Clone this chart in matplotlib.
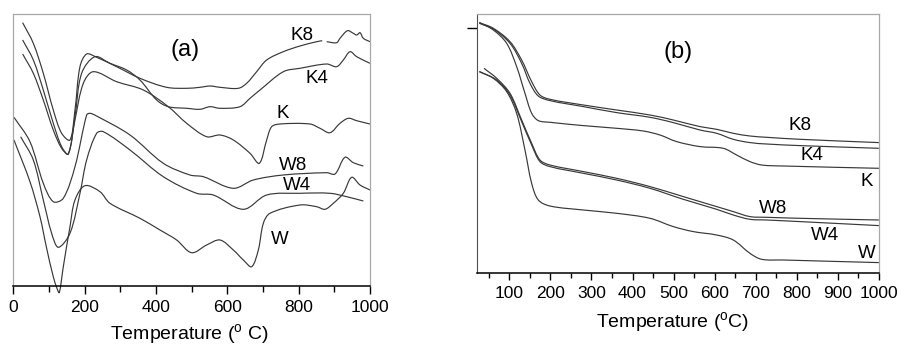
import numpy as np
import matplotlib
matplotlib.use("Agg")
import matplotlib.pyplot as plt
from matplotlib.ticker import MultipleLocator
from matplotlib.path import Path
from matplotlib.patches import PathPatch

plt.rcParams['font.family'] = ['Liberation Sans', 'DejaVu Sans']
plt.rcParams['mathtext.fontset'] = 'custom'
plt.rcParams['mathtext.rm'] = 'Liberation Sans'

# ---------------- Panel (a): DTA curves (temperature, signal in arbitrary units)
a_K8_T = [26.2, 56.1, 84.1, 112.1, 135.5, 158.9, 172.9, 186.9, 205.6, 233.6, 289.7, 355.1, 429.9, 486,
          523.4, 551.4, 579.4, 630.8, 654.2, 682.2, 710.3, 757, 803.7, 850.5, 866.0, np.nan,
          878.5, 906.5, 915.9, 937.0, 953.3, 962.6, 972, 981.3, 1000]
a_K8_y = [263.3, 242.7, 212.7, 176, 152.7, 146, 176, 219.3, 232, 228.7, 219.3, 207.7, 198.7, 197.7,
          198.7, 200, 198.7, 197.7, 202.7, 214.3, 226, 234.3, 240, 244.3, 245.3, np.nan,
          244.3, 243.3, 247.7, 255.3, 252.7, 251.0, 253.3, 247.7, 244.3]

a_K4_T = [26.2, 56.1, 84.1, 112.1, 135.5, 154.2, 172.9, 191.6, 229, 271, 317.8, 355.1, 401.9, 434.6, 486,
          523.4, 551.4, 579.4, 635.5, 663.6, 691.6, 757, 803.7, 878.5, 906.5, 925.2, 944, 962.6, 1000]
a_K4_y = [246, 226, 196, 162.7, 139.3, 132, 169.3, 212.7, 229.3, 222.7, 216, 206, 186, 179.3, 177.7,
          176.7, 179.3, 177.7, 179.3, 187.7, 196, 214.3, 217.7, 222, 219.3, 226, 234.3, 229.3, 222.7]

a_K_T = [26.2, 56.1, 84.1, 112.1, 135.5, 154.2, 172.9, 196.3, 224.3, 289.7, 364.5, 434.6, 486, 542, 579.4,
         616.8, 663.6, 689.7, 710.3, 724.3, 747.7, 831.8, 859.8, 887.9, 915.9, 939.3, 962.6, 1000]
a_K_y = [232, 212.7, 186, 156, 137.7, 132, 166, 202.7, 214.3, 204.3, 196, 179.3, 162.7, 149.3, 151,
         146, 132.7, 122.7, 146, 159.3, 162, 162, 157.7, 153.3, 162.7, 167.7, 165.3, 162]

a_W8_T = [1.9, 46.7, 84.1, 112.1, 140.2, 172.9, 205.6, 215, 233.6, 327.1, 420.6, 495.3, 532.7, 616.8,
          672.9, 757, 878.5, 901.9, 929.9, 953.3, 981.3]
a_W8_y = [168.7, 144.3, 102.7, 84.3, 87.7, 119.3, 171, 172.7, 170, 151, 122.7, 111, 109.3, 97.7,
          106, 111, 113.3, 112, 128.7, 123.3, 120]

a_W4_T = [20.6, 56.1, 84.1, 107.5, 126.2, 158.9, 186.9, 205.6, 233.6, 252.3, 327.1, 420.6, 514, 560.7,
          644.9, 710.3, 803.7, 887.9, 934.6, 981.3]
a_W4_y = [149.3, 126, 86, 52.7, 38.7, 52.7, 92.7, 126, 152.7, 154.3, 136, 109.3, 92.7, 91,
          76.7, 91, 92.7, 92.7, 89.3, 85]

a_W_T = [1.9, 46.7, 74.8, 93.5, 112.1, 123.4, 129, 140.2, 158.9, 172.9, 200.9, 243, 271, 355.1, 411.2,
         457.9, 500, 542, 579.4, 616.8, 644.9, 668.2, 686.9, 701, 719.6, 803.7, 850.5, 873.8, 897.2,
         925.2, 948.6, 972, 1000]
a_W_y = [146, 104.3, 69.3, 37.7, 9.3, -3.3, -6.7, 19.3, 59.3, 86, 100.3, 94.3, 82.7, 67.7, 56,
         46, 33.3, 41, 46, 36, 26, 19.3, 36, 62.7, 72.7, 81, 79.3, 76.7, 82.7,
         92.7, 108.7, 101, 96]

a_labels = ['K8', 'K4', 'K', 'W8', 'W4', 'W']
a_label_T = [808, 850, 755, 785, 794, 746]
a_label_y = [251, 207.7, 173, 121, 100, 46]
a_ticks = [0, 200, 400, 600, 800, 1000]

# ---------------- Panel (b): TG curves
b_K8_T = [27, 61.1, 101.6, 130, 154.4, 174.6, 199, 280.1, 361.3, 442.4, 499.2, 564.1, 604.7, 645.2,
          685.8, 726.4, 807.5, 999.8]
b_K8_y = [250.7, 245, 231.7, 213.3, 191.7, 178.3, 174, 168.3, 163.3, 158.3, 153.3, 146.7, 144,
          140, 137.3, 136, 134, 130.7]

b_K4_T = [27, 61.1, 101.6, 130, 150.3, 170.6, 199, 280.1, 361.3, 442.4, 499.2, 564.1, 604.7, 645.2,
          685.8, 726.4, 807.5, 999.8]
b_K4_y = [250, 244.3, 230, 210, 190, 177.3, 172.7, 166.7, 160.7, 156, 150.7, 143.3, 140, 134,
          130.7, 129.3, 127.7, 125]

b_K_T = [27, 61.1, 93.5, 117.8, 138.1, 154.4, 170.6, 199, 280.1, 361.3, 426.2, 466.7, 507.3, 564.1,
         620.9, 653.4, 685.8, 714.2, 766.9, 999.8]
b_K_y = [250.7, 243.3, 230, 206.7, 180, 160, 152.7, 151, 147.7, 145, 142.3, 138.3, 131.7, 126.7,
         125, 118.3, 111.7, 108.3, 107.3, 105]

b_W8_T = [38.3, 69.2, 101.6, 130, 154.4, 174.6, 199, 280.1, 361.3, 442.4, 523.5, 604.7, 645.2,
          685.8, 726.4, 807.5, 999.8]
b_W8_y = [205, 195, 180, 153.3, 130, 113.3, 108.3, 101.7, 95, 86.7, 76.7, 66.7, 61.7, 56.7, 56,
          55, 53.3]

b_W4_T = [27, 69.2, 101.6, 130, 154.4, 174.6, 199, 280.1, 361.3, 442.4, 523.5, 604.7, 645.2,
          685.8, 726.4, 807.5, 999.8]
b_W4_y = [201.7, 193.3, 178.3, 151.7, 128.3, 111.7, 106.7, 100, 93.3, 85, 74, 64, 58.3, 54, 53.3,
          51.7, 47.7]

b_W_T = [27, 61.1, 93.5, 117.8, 138.1, 154.4, 170.6, 199, 280.1, 361.3, 442.4, 499.2, 547.9, 604.7,
         645.2, 685.8, 714.2, 766.9, 999.8]
b_W_y = [201.7, 195, 181.7, 160, 123.3, 90, 73.3, 67.3, 63.3, 60, 55, 46.7, 41.7, 38.3, 33.3,
         20, 14, 13.3, 10.7]

b_labels = ['K8', 'K4', 'K', 'W8', 'W4', 'W']
b_label_T = [808, 836, 970, 743, 868, 970]
b_label_y = [147.3, 118.3, 91.6, 65, 37.6, 19.3]
b_ticks = [100, 200, 300, 400, 500, 600, 700, 800, 900, 1000]

LINE = '#383838'
GRAY = '#a8a8a8'


def smooth_curve(ax, T, y, sx, sy, clip=True):
    """Draw a smooth line through the read points (cubic Bezier segments)."""
    T = np.asarray(T, float)
    y = np.asarray(y, float)
    bad = np.isnan(T) | np.isnan(y)
    idx = np.where(bad)[0]
    starts = [0] + list(idx + 1)
    ends = list(idx) + [len(T)]
    for s, e in zip(starts, ends):
        px, py = T[s:e], y[s:e]
        n = len(px)
        if n < 2:
            continue
        # chord-length parameter in display-like units
        d = np.hypot(np.diff(px) * sx, np.diff(py) * sy)
        t = np.concatenate([[0], np.cumsum(d)])
        mx = np.zeros(n)
        my = np.zeros(n)
        for i in range(n):
            i0 = max(i - 1, 0)
            i1 = min(i + 1, n - 1)
            dt = t[i1] - t[i0]
            mx[i] = (px[i1] - px[i0]) / dt
            my[i] = (py[i1] - py[i0]) / dt
        verts = [(px[0], py[0])]
        codes = [Path.MOVETO]
        for i in range(n - 1):
            h = (t[i + 1] - t[i]) / 3.0
            verts += [(px[i] + mx[i] * h, py[i] + my[i] * h),
                      (px[i + 1] - mx[i + 1] * h, py[i + 1] - my[i + 1] * h),
                      (px[i + 1], py[i + 1])]
            codes += [Path.CURVE4] * 3
        patch = PathPatch(Path(verts, codes), facecolor='none', edgecolor=LINE,
                          lw=0.85, clip_on=clip)
        ax.add_patch(patch)


fig = plt.figure(figsize=(9.0, 3.47), dpi=100)

# ---- (a)
axa = fig.add_axes([13.3 / 900, (347 - 286) / 347, 356.7 / 900, 272 / 347])
sxa, sya = 356.7 / 1000, 1.0
for T, y in [(a_K8_T, a_K8_y), (a_K4_T, a_K4_y), (a_K_T, a_K_y),
             (a_W8_T, a_W8_y), (a_W4_T, a_W4_y), (a_W_T, a_W_y)]:
    smooth_curve(axa, T, y, sxa, sya, clip=False)
axa.set_xlim(0, 1000)
axa.set_ylim(0, 272)
axa.set_yticks([])
axa.set_xticks(a_ticks)
axa.xaxis.set_minor_locator(MultipleLocator(100))
axa.tick_params(axis='x', which='major', direction='out', length=6, width=1, labelsize=12.5, pad=4)
axa.tick_params(axis='x', which='minor', direction='out', length=4, width=1)
for s in ['top', 'right', 'left']:
    axa.spines[s].set_color(GRAY)
    axa.spines[s].set_linewidth(0.9)
axa.spines['bottom'].set_linewidth(1.1)
for lab, T, y in zip(a_labels, a_label_T, a_label_y):
    axa.text(T, y, lab, fontsize=13.5, ha='center', va='center')
axa.text(481, 236, '(a)', fontsize=17, ha='center', va='center')
axa.set_xlabel(r'Temperature ($^{\rm o}$ C)', fontsize=14)
axa.xaxis.set_label_coords(0.4926, -0.178)
axa.xaxis.label.set_va('center')

# ---- (b)
axb = fig.add_axes([476.7 / 900, (347 - 273.3) / 347, 402.3 / 900, 259.3 / 347])
sxb, syb = 402.3 / 979.4, 1.0
for T, y in [(b_K8_T, b_K8_y), (b_K4_T, b_K4_y), (b_K_T, b_K_y),
             (b_W8_T, b_W8_y), (b_W4_T, b_W4_y), (b_W_T, b_W_y)]:
    smooth_curve(axb, T, y, sxb, syb)
axb.set_xlim(20.6, 1000)
axb.set_ylim(0, 259.3)
axb.set_yticks([245.6])
axb.set_yticklabels([])
axb.tick_params(axis='y', direction='out', length=7, width=1)
axb.set_xticks(b_ticks)
axb.xaxis.set_minor_locator(MultipleLocator(50))
axb.tick_params(axis='x', which='major', direction='out', length=5, width=1, labelsize=12.5, pad=4)
axb.tick_params(axis='x', which='minor', direction='out', length=3.5, width=1)
for s in ['top', 'right']:
    axb.spines[s].set_color(GRAY)
    axb.spines[s].set_linewidth(0.9)
axb.spines['left'].set_color('#505050')
axb.spines['bottom'].set_linewidth(1.1)
for lab, T, y in zip(b_labels, b_label_T, b_label_y):
    axb.text(T, y, lab, fontsize=13.5, ha='center', va='center')
axb.text(511, 221.6, '(b)', fontsize=17, ha='center', va='center')
axb.set_xlabel(r'Temperature ($^{\rm o}$C)', fontsize=14)
axb.xaxis.set_label_coords(0.488, -0.1917)
axb.xaxis.label.set_va('center')

fig.savefig('out.png', dpi=100)
